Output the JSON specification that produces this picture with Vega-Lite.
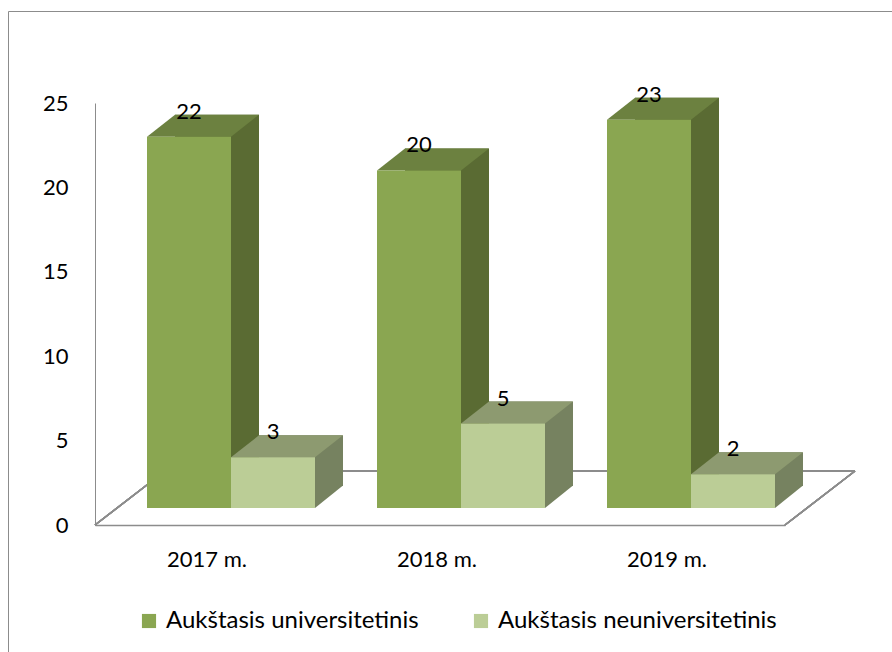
{
  "$schema": "https://vega.github.io/schema/vega-lite/v6.json",
  "width": 884,
  "height": 641,
  "autosize": {"type": "none"},
  "padding": {"left": 8, "top": 11, "right": 0, "bottom": 0},
  "background": "white",
  "config": {
    "font": "Lato",
    "view": {"stroke": "#8c8c8c", "strokeWidth": 1},
    "axisX": {"offset": -127, "domainColor": "#8c8c8c", "domainWidth": 1.5, "ticks": false, "grid": false, "labelAngle": 0, "labelFontSize": 22, "labelColor": "black", "labelPadding": 24, "labelOffset": -3},
    "axisY": {"offset": -87, "domainColor": "#8c8c8c", "domainWidth": 1, "ticks": false, "grid": false, "labelFontSize": 22, "labelColor": "black", "labelPadding": 27, "tickCount": 5}
  },
  "data": {
    "values": [
      {"year": "2017 m.", "series": "Aukštasis universitetinis", "value": 22},
      {"year": "2017 m.", "series": "Aukštasis neuniversitetinis", "value": 3},
      {"year": "2018 m.", "series": "Aukštasis universitetinis", "value": 20},
      {"year": "2018 m.", "series": "Aukštasis neuniversitetinis", "value": 5},
      {"year": "2019 m.", "series": "Aukštasis universitetinis", "value": 23},
      {"year": "2019 m.", "series": "Aukštasis neuniversitetinis", "value": 2}
    ]
  },
  "resolve": {"scale": {"xOffset": "independent"}},
  "layer": [
    {
      "mark": {"type": "rule", "color": "#8c8c8c", "strokeWidth": 1.5, "xOffset": -45, "x2Offset": 185, "yOffset": -54},
      "encoding": {
        "x": {"datum": "2017 m.", "type": "nominal", "title": null, "scale": {"domain": ["2017 m.", "2018 m.", "2019 m."], "range": [87, 777], "paddingInner": 0, "paddingOuter": 0}},
        "x2": {"datum": "2019 m."},
        "y": {"datum": 0, "type": "quantitative", "title": null, "scale": {"domain": [0, 25], "range": [514, 92], "nice": false, "zero": true}}
      }
    },
    {
      "mark": {"type": "rule", "color": "#8c8c8c", "strokeWidth": 1.5, "xOffset": -115, "x2Offset": -45, "y2Offset": -54},
      "encoding": {
        "x": {"datum": "2017 m.", "type": "nominal", "title": null},
        "x2": {"datum": "2017 m."},
        "y": {"datum": 0, "type": "quantitative", "title": null},
        "y2": {"datum": 0}
      }
    },
    {
      "mark": {"type": "rule", "color": "#8c8c8c", "strokeWidth": 1.5, "xOffset": 115, "x2Offset": 185, "y2Offset": -54},
      "encoding": {
        "x": {"datum": "2019 m.", "type": "nominal", "title": null},
        "x2": {"datum": "2019 m."},
        "y": {"datum": 0, "type": "quantitative", "title": null},
        "y2": {"datum": 0}
      }
    },
    {
      "mark": {"type": "bar", "yOffset": -39, "y2Offset": -39},
      "encoding": {
        "x": {"field": "year", "type": "nominal", "title": null},
        "xOffset": {"field": "series", "type": "nominal", "scale": {"type": "band", "domain": ["Aukštasis universitetinis", "Aukštasis neuniversitetinis"], "range": [80, 248], "paddingInner": 0, "paddingOuter": 0}},
        "y": {"field": "value", "type": "quantitative", "title": null},
        "y2": {"datum": 0},
        "color": {"condition": {"test": "datum.series === 'Aukštasis universitetinis'", "value": "#5a6b33"}, "value": "#768260"}
      }
    },
    {
      "mark": {"type": "point", "shape": "M 42 -22.5 L 70 -22.5 L 42 0 Z", "size": 4, "filled": true, "opacity": 1, "strokeWidth": 0, "yOffset": -17},
      "encoding": {
        "x": {"field": "year", "type": "nominal", "title": null},
        "xOffset": {"field": "series", "type": "nominal", "scale": {"type": "band", "domain": ["Aukštasis universitetinis", "Aukštasis neuniversitetinis"], "range": [52, 220], "paddingInner": 0, "paddingOuter": 0}},
        "y": {"datum": 0, "type": "quantitative", "title": null},
        "color": {"condition": {"test": "datum.series === 'Aukštasis universitetinis'", "value": "#5a6b33"}, "value": "#768260"}
      }
    },
    {
      "mark": {"type": "point", "shape": "M -42 0 L 42 0 L 70 -22 L -14 -22 Z", "size": 4, "filled": true, "opacity": 1, "strokeWidth": 0, "yOffset": -17},
      "encoding": {
        "x": {"field": "year", "type": "nominal", "title": null},
        "xOffset": {"field": "series", "type": "nominal", "scale": {"type": "band", "domain": ["Aukštasis universitetinis", "Aukštasis neuniversitetinis"], "range": [52, 220], "paddingInner": 0, "paddingOuter": 0}},
        "y": {"field": "value", "type": "quantitative", "title": null},
        "color": {"condition": {"test": "datum.series === 'Aukštasis universitetinis'", "value": "#6c8140"}, "value": "#8d9a70"}
      }
    },
    {
      "mark": {"type": "bar", "yOffset": -17, "y2Offset": -17},
      "encoding": {
        "x": {"field": "year", "type": "nominal", "title": null},
        "xOffset": {"field": "series", "type": "nominal", "scale": {"type": "band", "domain": ["Aukštasis universitetinis", "Aukštasis neuniversitetinis"], "range": [52, 220], "paddingInner": 0, "paddingOuter": 0}},
        "y": {"field": "value", "type": "quantitative", "title": null},
        "y2": {"datum": 0},
        "color": {
          "field": "series", "type": "nominal",
          "scale": {"domain": ["Aukštasis universitetinis", "Aukštasis neuniversitetinis"], "range": ["#8aa651", "#bbcd96"]},
          "legend": {"title": null, "orient": "none", "direction": "horizontal", "legendX": 129, "legendY": 598, "symbolType": "square", "symbolSize": 200, "symbolStrokeWidth": 0, "labelFontSize": 24, "labelOffset": 5, "columnPadding": 50, "labelColor": "black", "labelLimit": 500}
        }
      }
    },
    {
      "mark": {"type": "text", "yOffset": -42, "fontSize": 22, "baseline": "middle", "align": "center", "color": "black"},
      "encoding": {
        "x": {"field": "year", "type": "nominal", "title": null},
        "xOffset": {"field": "series", "type": "nominal", "scale": {"type": "band", "domain": ["Aukštasis universitetinis", "Aukštasis neuniversitetinis"], "range": [52, 220], "paddingInner": 0, "paddingOuter": 0}},
        "y": {"field": "value", "type": "quantitative", "title": null},
        "text": {"field": "value", "type": "quantitative"}
      }
    }
  ]
}
